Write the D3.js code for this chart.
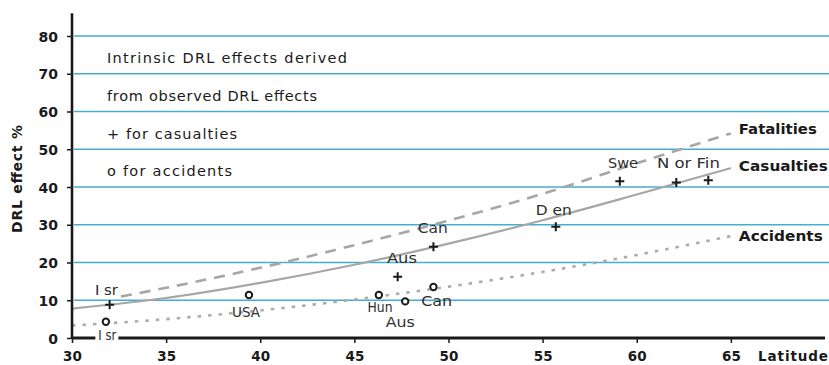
<!DOCTYPE html>
<html>
<head>
<meta charset="utf-8">
<script src="https://cdn.jsdelivr.net/npm/d3@7/dist/d3.min.js"></script>
<style>
  html, body { margin: 0; padding: 0; background: #fff; }
  svg { display: block; font-family: "DejaVu Sans", "Liberation Sans", Arial, sans-serif; }
</style>
</head>
<body>
<svg id="chart" width="829" height="365"></svg>
<script>
// ---------- data ----------
const yTicks = [0, 10, 20, 30, 40, 50, 60, 70, 80];
const xTicks = [30, 35, 40, 45, 50, 55, 60, 65];

// fitted curves (latitude, DRL effect %)
const fatalitiesLat = [32.6, 35, 40, 45, 50, 55, 60, 65];
const fatalitiesVal = [11.0, 13.3, 18.6, 24.6, 31.1, 38.2, 46.3, 54.2];
const casualtiesLat = [30, 35, 40, 45, 50, 55, 60, 65];
const casualtiesVal = [7.8, 10.6, 14.6, 19.4, 25.0, 31.2, 38.0, 45.0];
const accidentsLat = [30, 35, 40, 45, 50, 55, 60, 65];
const accidentsVal = [3.3, 5.0, 7.3, 10.2, 13.6, 17.5, 22.0, 27.0];

// observed points: casualties (+)
const casCountries = ["Isr", "Aus", "Can", "Den", "Swe", "Nor", "Fin"];
const casLat = [32.0, 47.3, 49.2, 55.7, 59.1, 62.1, 63.8];
const casVal = [8.8, 16.2, 24.2, 29.5, 41.5, 41.2, 41.8];
// observed points: accidents (o)
const accCountries = ["Isr", "USA", "Hun", "Aus", "Can"];
const accLat = [31.8, 39.4, 46.3, 47.7, 49.2];
const accVal = [4.3, 11.4, 11.4, 9.7, 13.5];

// point labels (text and anchor in data space)
const labelText = ["I sr", "I sr", "USA", "Hun", "Aus", "Can", "Aus", "Can", "D en", "Swe", "N or Fin"];
const labelLat  = [31.22, 31.4, 38.5, 45.7, 46.67, 48.55, 46.73, 48.37, 54.64, 58.47, 61.07];
const labelVal  = [11.4, -0.5, 5.6, 6.9, 2.9, 8.5, 19.9, 27.8, 32.6, 45.0, 45.0];
const labelLen  = [23, 18, 28, 25, 29, 31, 30, 30, 36, 30, 63];

const curveNames = ["Fatalities", "Casualties", "Accidents"];
const curveNameVal = [54.0, 44.2, 25.7];

const legendLines = ["Intrinsic DRL effects derived", "from observed DRL effects", "+  for  casualties", "o  for accidents"];

// ---------- drawing ----------
const svg = d3.select("#chart");
const x = d3.scaleLinear().domain([30, 70]).range([72, 825]);
const y = d3.scaleLinear().domain([0, 80]).range([338, 36]);

const ink = "#1a1a1a";
const grid = "#45aed0";
const curveGrey = "#a6a6a6";

// gridlines
svg.append("g").selectAll("line")
  .data(yTicks.filter(d => d > 0))
  .join("line")
  .attr("x1", x(30) + 2).attr("x2", 829)
  .attr("y1", d => y(d)).attr("y2", d => y(d))
  .attr("stroke", grid).attr("stroke-width", 1.6);

// curves
const line = d3.line().x(d => x(d[0])).y(d => y(d[1])).curve(d3.curveMonotoneX);
const zip = (a, b) => a.map((v, i) => [v, b[i]]);

svg.append("path").datum(zip(fatalitiesLat, fatalitiesVal)).attr("d", line)
  .attr("fill", "none").attr("stroke", curveGrey).attr("stroke-width", 2.6)
  .attr("stroke-dasharray", "11,8");
svg.append("path").datum(zip(casualtiesLat, casualtiesVal)).attr("d", line)
  .attr("fill", "none").attr("stroke", curveGrey).attr("stroke-width", 2.2);
svg.append("path").datum(zip(accidentsLat, accidentsVal)).attr("d", line)
  .attr("fill", "none").attr("stroke", "#acacac").attr("stroke-width", 2.6)
  .attr("stroke-dasharray", "3.5,7");

// y axis
const yAxis = d3.axisLeft(y).tickValues(yTicks).tickSize(5).tickPadding(9);
const gy = svg.append("g").attr("transform", `translate(${x(30)},0)`).call(yAxis);
gy.select(".domain").remove();
gy.selectAll(".tick line").attr("stroke", ink).attr("stroke-width", 1.5);
gy.selectAll(".tick text").attr("fill", ink).attr("font-size", 14).attr("font-weight", "bold")
  .attr("font-family", "DejaVu Sans").attr("dy", "0.36em");
svg.append("line").attr("x1", x(30)).attr("x2", x(30)).attr("y1", y(86)).attr("y2", y(0) + 1)
  .attr("stroke", ink).attr("stroke-width", 2.6);

// x axis
const xAxis = d3.axisBottom(x).tickValues(xTicks).tickSize(5).tickPadding(8);
const gx = svg.append("g").attr("transform", `translate(0,${y(0)})`).call(xAxis);
gx.select(".domain").attr("stroke", ink).attr("stroke-width", 2.8).attr("d", `M${x(30)},0H${x(70)}`);
gx.selectAll(".tick line").attr("stroke", ink).attr("stroke-width", 1.5);
gx.selectAll(".tick text").attr("fill", ink).attr("font-size", 13.5).attr("font-weight", "bold")
  .attr("font-family", "DejaVu Sans");
svg.append("text").attr("x", 758).attr("y", 361).attr("fill", ink)
  .attr("font-size", 13.5).attr("font-weight", "bold")
  .attr("textLength", 70).attr("lengthAdjust", "spacing").text("Latitude");

// y axis title
svg.append("text")
  .attr("transform", `translate(22,179) rotate(-90)`)
  .attr("text-anchor", "middle").attr("fill", ink)
  .attr("font-size", 14).attr("font-weight", "bold")
  .attr("textLength", 108).attr("lengthAdjust", "spacing")
  .text("DRL effect %");

// legend text
const legendWidths = [240, 210, 130, 125];
const legendBase = [63, 101, 139, 176];
svg.append("g").selectAll("text").data(legendLines).join("text")
  .attr("x", 107).attr("y", (d, i) => legendBase[i])
  .attr("fill", ink).attr("font-size", 14.5)
  .attr("textLength", (d, i) => legendWidths[i]).attr("lengthAdjust", "spacing")
  .text(d => d);

// point labels (white box behind the one sitting on the x axis)
const lg = svg.append("g");
labelText.forEach((t, i) => {
  const tx = lg.append("text")
    .attr("x", x(labelLat[i])).attr("y", y(labelVal[i]))
    .attr("fill", "#2e2e2e").attr("font-size", 14.5)
    .attr("textLength", labelLen[i]).attr("lengthAdjust", "spacingAndGlyphs")
    .text(t);
  if (labelVal[i] < 0) {
    const bb = tx.node().getBBox();
    lg.insert("rect", "text").attr("x", bb.x - 3).attr("y", y(0) - 2)
      .attr("width", bb.width + 5).attr("height", 5).attr("fill", "#fff");
  }
});

// casualty points (+)
svg.append("g").selectAll("path").data(zip(casLat, casVal)).join("path")
  .attr("d", d => `M${x(d[0]) - 4.5},${y(d[1])}h9M${x(d[0])},${y(d[1]) - 4.5}v9`)
  .attr("stroke", ink).attr("stroke-width", 2);

// accident points (o)
svg.append("g").selectAll("circle").data(zip(accLat, accVal)).join("circle")
  .attr("cx", d => x(d[0])).attr("cy", d => y(d[1])).attr("r", 3.2)
  .attr("fill", "#fff").attr("stroke", ink).attr("stroke-width", 2);

// curve names
svg.append("g").selectAll("text").data(curveNames).join("text")
  .attr("x", x(65.42)).attr("y", (d, i) => y(curveNameVal[i]))
  .attr("fill", ink).attr("font-size", 14).attr("font-weight", "bold")
  .attr("textLength", (d, i) => [78, 89, 84][i]).attr("lengthAdjust", "spacingAndGlyphs")
  .text(d => d);
</script>
</body>
</html>
